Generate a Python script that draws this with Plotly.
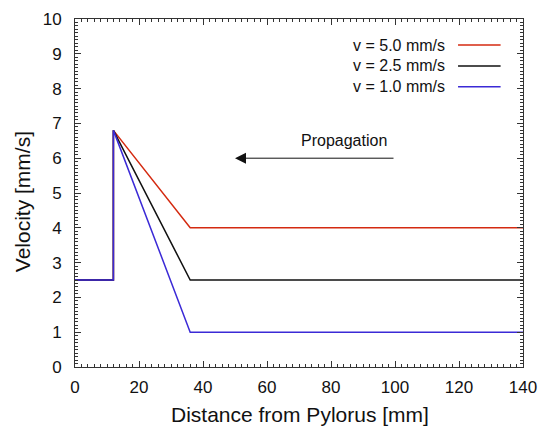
import plotly.graph_objects as go

# Data
x_pts = [0, 12, 12, 36, 140]
v_red = [2.5, 2.5, 6.8, 4.0, 4.0]
v_black = [2.5, 2.5, 6.8, 2.5, 2.5]
v_blue = [2.5, 2.5, 6.8, 1.0, 1.0]
labels = ["v = 5.0 mm/s", "v = 2.5 mm/s", "v = 1.0 mm/s"]
colors = ["#d42a10", "#111111", "#3b2ad6"]
x_ticks = [0, 20, 40, 60, 80, 100, 120, 140]
y_ticks = [0, 1, 2, 3, 4, 5, 6, 7, 8, 9, 10]

FONT = "Liberation Sans, Arial, Helvetica, sans-serif"

fig = go.Figure()
for ys, name, c in zip([v_red, v_black, v_blue], labels, colors):
    fig.add_trace(go.Scatter(x=x_pts, y=ys, mode="lines", name=name,
                             line=dict(color=c, width=1.5), showlegend=False))

# manual legend (text left of line sample)
leg_y = [0.925, 0.865, 0.805]
for lab, c, yy in zip(labels, colors, leg_y):
    fig.add_annotation(xref="paper", yref="paper", x=0.83, y=yy, text=lab,
                       showarrow=False, xanchor="right", yanchor="middle",
                       font=dict(family=FONT, size=16, color="#111"))
    fig.add_shape(type="line", xref="paper", yref="paper", x0=0.855, x1=0.95,
                  y0=yy, y1=yy, line=dict(color=c, width=1.5))

# propagation arrow
fig.add_annotation(x=50, y=6, ax=100, ay=6, xref="x", yref="y", axref="x", ayref="y",
                   text="", showarrow=True, arrowhead=2, arrowsize=2.2, arrowwidth=1.0,
                   arrowcolor="#111")
fig.add_annotation(x=84, y=6.5, xref="x", yref="y", text="Propagation", showarrow=False,
                   font=dict(family=FONT, size=16, color="#111"))

axis_common = dict(showline=True, linecolor="#333", linewidth=1, mirror="ticks",
                   ticks="inside", ticklen=6, tickcolor="#333", showgrid=False,
                   zeroline=False, automargin=False,
                   tickfont=dict(family=FONT, size=17, color="#111"))

fig.update_xaxes(range=[0, 140], tickvals=x_ticks, ticklabelstandoff=5,
                 minor=dict(ticks="inside", ticklen=3, dtick=2, tickcolor="#333"),
                 **axis_common)
fig.update_yaxes(range=[0, 10], tickvals=y_ticks, ticklabelstandoff=9,
                 minor=dict(ticks="inside", ticklen=3, dtick=0.1, tickcolor="#333"),
                 **axis_common)

# axis titles
fig.add_annotation(xref="paper", yref="paper", x=0.502, y=-0.137, yanchor="middle",
                   text="Distance from Pylorus [mm]", showarrow=False,
                   font=dict(family=FONT, size=21, color="#111"))
fig.add_annotation(xref="paper", yref="paper", x=-0.118, y=0.474, xanchor="center",
                   yanchor="middle", text="Velocity [mm/s]", showarrow=False, textangle=-90,
                   font=dict(family=FONT, size=21, color="#111"))

fig.update_layout(width=545, height=428, margin=dict(l=75, r=22, t=19, b=61),
                  plot_bgcolor="white", paper_bgcolor="white")

fig.write_html("out.html", config={"displayModeBar": False},
               post_script="document.body.style.margin='0px';document.body.style.overflow='hidden';")
